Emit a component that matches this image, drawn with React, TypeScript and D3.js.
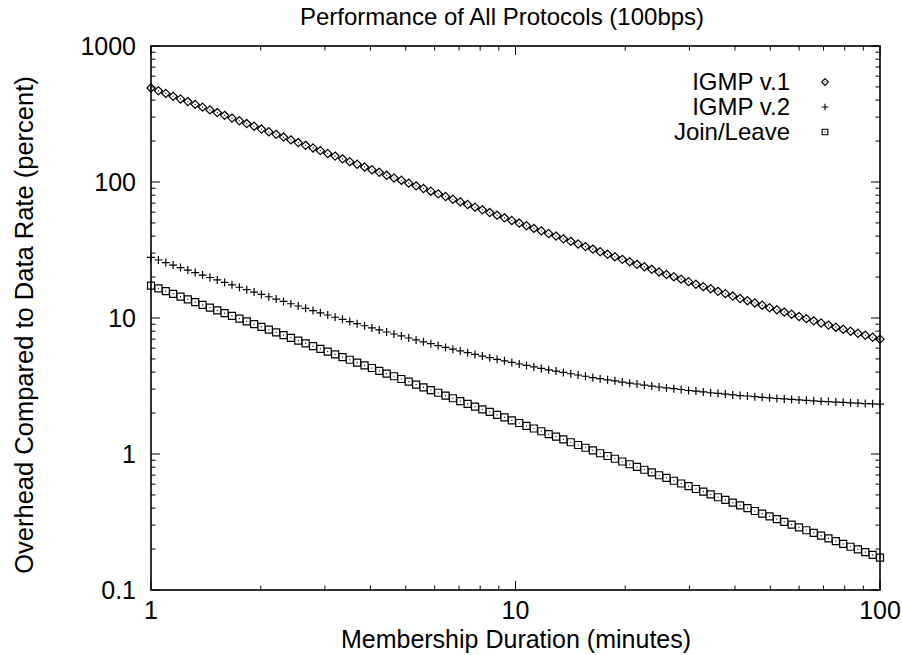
import React from 'react';
import * as d3 from 'd3';

// membership duration in minutes (log spaced samples)
const duration = [
  1.000, 1.048, 1.098, 1.150, 1.205, 1.262, 1.322, 1.385, 1.451, 1.520,
  1.592, 1.668, 1.748, 1.831, 1.918, 2.009, 2.105, 2.205, 2.310, 2.420,
  2.535, 2.656, 2.783, 2.915, 3.054, 3.199, 3.352, 3.511, 3.678, 3.854,
  4.037, 4.229, 4.431, 4.642, 4.863, 5.094, 5.337, 5.591, 5.857, 6.136,
  6.428, 6.734, 7.055, 7.391, 7.743, 8.111, 8.498, 8.902, 9.326, 9.770,
  10.24, 10.72, 11.23, 11.77, 12.33, 12.92, 13.53, 14.18, 14.85, 15.56,
  16.30, 17.07, 17.89, 18.74, 19.63, 20.57, 21.54, 22.57, 23.65, 24.77,
  25.95, 27.19, 28.48, 29.84, 31.26, 32.75, 34.31, 35.94, 37.65, 39.44,
  41.32, 43.29, 45.35, 47.51, 49.77, 52.14, 54.62, 57.22, 59.95, 62.80,
  65.79, 68.93, 72.21, 75.65, 79.25, 83.02, 86.98, 91.12, 95.46, 100.0,
];

const igmpV1 = [
  491, 469, 448, 427, 408, 390, 372, 355, 339, 324,
  309, 295, 282, 269, 257, 245, 234, 224, 214, 204,
  195, 186, 178, 170, 162, 155, 148, 141, 135, 129,
  123, 118, 112, 107, 103, 98.1, 93.7, 89.6, 85.6, 81.8,
  78.2, 74.7, 71.4, 68.3, 65.3, 62.4, 59.6, 57.0, 54.5, 52.1,
  49.9, 47.7, 45.6, 43.7, 41.8, 40.0, 38.2, 36.6, 35.0, 33.5,
  32.1, 30.7, 29.4, 28.2, 27.0, 25.9, 24.8, 23.8, 22.8, 21.8,
  20.9, 20.1, 19.3, 18.5, 17.7, 17.0, 16.4, 15.7, 15.1, 14.5,
  13.9, 13.4, 12.9, 12.4, 11.9, 11.5, 11.05, 10.65, 10.26, 9.89,
  9.53, 9.19, 8.87, 8.56, 8.27, 7.99, 7.72, 7.47, 7.22, 6.99,
];

const igmpV2 = [
  27.9, 26.7, 25.58, 24.51, 23.49, 22.52, 21.59, 20.7, 19.85, 19.04,
  18.27, 17.54, 16.83, 16.16, 15.52, 14.91, 14.33, 13.77, 13.24, 12.73,
  12.25, 11.78, 11.34, 10.92, 10.52, 10.13, 9.77, 9.42, 9.08, 8.77,
  8.46, 8.17, 7.89, 7.63, 7.38, 7.13, 6.9, 6.68, 6.48, 6.27,
  6.08, 5.9, 5.73, 5.56, 5.4, 5.25, 5.11, 4.97, 4.84, 4.71,
  4.59, 4.48, 4.37, 4.26, 4.16, 4.07, 3.98, 3.89, 3.81, 3.73,
  3.65, 3.58, 3.51, 3.45, 3.38, 3.32, 3.27, 3.21, 3.16, 3.11,
  3.06, 3.02, 2.98, 2.93, 2.9, 2.86, 2.82, 2.79, 2.76, 2.72,
  2.69, 2.67, 2.64, 2.61, 2.59, 2.56, 2.54, 2.52, 2.5, 2.48,
  2.46, 2.44, 2.43, 2.41, 2.4, 2.38, 2.37, 2.35, 2.34, 2.33,
];

const joinLeave = [
  17.3, 16.51, 15.76, 15.05, 14.36, 13.71, 13.09, 12.49, 11.92, 11.38,
  10.86, 10.37, 9.9, 9.45, 9.02, 8.61, 8.22, 7.85, 7.49, 7.15,
  6.82, 6.51, 6.22, 5.93, 5.66, 5.41, 5.16, 4.93, 4.7, 4.49,
  4.29, 4.09, 3.9, 3.73, 3.56, 3.4, 3.24, 3.09, 2.95, 2.82,
  2.69, 2.57, 2.45, 2.34, 2.23, 2.13, 2.04, 1.94, 1.86, 1.77,
  1.69, 1.61, 1.54, 1.47, 1.4, 1.34, 1.28, 1.22, 1.165, 1.112,
  1.062, 1.013, 0.967, 0.923, 0.881, 0.841, 0.803, 0.766, 0.732, 0.698,
  0.667, 0.636, 0.607, 0.58, 0.553, 0.528, 0.504, 0.481, 0.46, 0.439,
  0.419, 0.4, 0.381, 0.364, 0.348, 0.332, 0.317, 0.302, 0.289, 0.275,
  0.263, 0.251, 0.24, 0.229, 0.218, 0.208, 0.199, 0.19, 0.181, 0.173,
];

const seriesNames = ['IGMP v.1', 'IGMP v.2', 'Join/Leave'];
const xTickLabels = ['1', '10', '100'];
const yTickLabels = ['0.1', '1', '10', '100', '1000'];

const W = 902, H = 655;
const FONT = '"Liberation Sans", Arial, Helvetica, sans-serif';

const marker = (kind: number, x: number, y: number, r: number) => {
  if (kind === 0)
    return `M${x},${y - r}L${x + r},${y}L${x},${y + r}L${x - r},${y}Z M${x - 0.5},${y}h1`;
  if (kind === 1)
    return `M${x - r},${y}H${x + r}M${x},${y - r}V${y + r}`;
  return `M${x - r},${y - r}H${x + r}V${y + r}H${x - r}Z M${x - 0.5},${y}h1`;
};

const App = () => {
  const left = 151, right = 880, top = 46, bottom = 590;
  const x = d3.scaleLog().domain([1, 100]).range([left, right]);
  const y = d3.scaleLog().domain([0.1, 1000]).range([bottom, top]);

  const xMinor = x.ticks().filter(t => !xTickLabels.includes(String(t)));
  const yMinor = y.ticks().filter(t => !yTickLabels.includes(String(t)));
  const major = 9, minor = 4.5;

  const series = [igmpV1, igmpV2, joinLeave];
  const sizes = [4.1, 4, 3.5];

  return (
    <svg width={W} height={H} style={{position: 'absolute', left: 0, top: 0, background: '#fff'}}
      fontFamily={FONT}>
      <text x={502} y={17} dy="0.35em" textAnchor="middle" fontSize={24}>
        Performance of All Protocols (100bps)
      </text>

      {/* ticks, mirrored on all sides */}
      <g stroke="#000" strokeWidth={1}>
        {xTickLabels.map(t => (
          <g key={'xM' + t}>
            <line x1={x(+t)} x2={x(+t)} y1={bottom} y2={bottom - major} />
            <line x1={x(+t)} x2={x(+t)} y1={top} y2={top + major} />
          </g>
        ))}
        {xMinor.map(t => (
          <g key={'xm' + t}>
            <line x1={x(t)} x2={x(t)} y1={bottom} y2={bottom - minor} />
            <line x1={x(t)} x2={x(t)} y1={top} y2={top + minor} />
          </g>
        ))}
        {yTickLabels.map(t => (
          <g key={'yM' + t}>
            <line x1={left} x2={left + major} y1={y(+t)} y2={y(+t)} />
            <line x1={right} x2={right - major} y1={y(+t)} y2={y(+t)} />
          </g>
        ))}
        {yMinor.map(t => (
          <g key={'ym' + t}>
            <line x1={left} x2={left + minor} y1={y(t)} y2={y(t)} />
            <line x1={right} x2={right - minor} y1={y(t)} y2={y(t)} />
          </g>
        ))}
      </g>
      <rect x={left} y={top} width={right - left} height={bottom - top}
        fill="none" stroke="#000" strokeWidth={1.6} />

      {yTickLabels.map(t => (
        <text key={'yl' + t} x={136} y={y(+t)} dy="0.35em" textAnchor="end" fontSize={25}>{t}</text>
      ))}
      {xTickLabels.map(t => (
        <text key={'xl' + t} x={x(+t)} y={610} dy="0.35em" textAnchor="middle" fontSize={25}>{t}</text>
      ))}
      <text x={516} y={639} dy="0.35em" textAnchor="middle" fontSize={25}>
        Membership Duration (minutes)
      </text>
      <text transform={`translate(24,325) rotate(-90)`} dy="0.35em"
        textAnchor="middle" fontSize={25.5}>
        Overhead Compared to Data Rate (percent)
      </text>

      {series.map((vals, k) => (
        <path key={'s' + k} fill="none" stroke="#000" strokeWidth={1.2}
          d={vals.map((v, i) => marker(k, x(duration[i]), y(v), sizes[k])).join(' ')} />
      ))}

      {seriesNames.map((name, k) => (
        <g key={'lg' + k}>
          <text x={790} y={82 + k * 25} dy="0.35em" textAnchor="end" fontSize={24}>{name}</text>
          <path d={marker(k, 825, 82 + k * 25, sizes[k] - 0.7)} fill="none" stroke="#000" strokeWidth={1.1} />
        </g>
      ))}
    </svg>
  );
};

export default App;
